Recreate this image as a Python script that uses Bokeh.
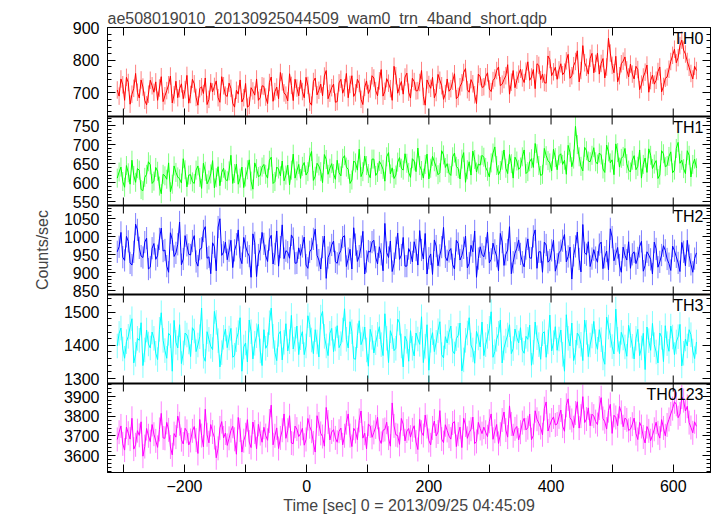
import math
from bokeh.plotting import figure
from bokeh.models import (Range1d, FixedTicker, LinearAxis, Label, ColumnDataSource,
                          Span, CustomJSTickFormatter)
from bokeh.embed import file_html
from bokeh.resources import INLINE

TITLE = "ae508019010_20130925044509_wam0_trn_4band_short.qdp"
XLABEL = "Time [sec] 0 = 2013/09/25 04:45:09"
YLABEL = "Counts/sec"

# time bins (sec): samples "a" at -310, -304, ... and samples "b" 3 s later
T0 = -310
DT = 6
N_A = 159
N_B = 158

th0_a = [708, 742, 676, 731, 695, 759, 683, 717, 662, 738,
         701, 676, 749, 690, 724, 668, 735, 712, 681, 753,
         694, 727, 661, 718, 745, 679, 702, 736, 670, 721,
         688, 713, 655, 695, 671, 728, 660, 705, 742, 684,
         719, 666, 748, 703, 681, 733, 692, 758, 675, 714,
         739, 684, 722, 661, 745, 707, 690, 768, 698, 726,
         672, 741, 715, 684, 752, 699, 728, 663, 736, 711,
         745, 690, 771, 704, 729, 676, 752, 718, 695, 760,
         683, 734, 706, 768, 661, 725, 747, 700, 738, 679,
         742, 712, 758, 688, 730, 774, 701, 727, 666, 749,
         718, 761, 703, 745, 779, 726, 752, 695, 768, 738,
         772, 731, 795, 748, 712, 784, 757, 729, 802, 764,
         741, 789, 763, 818, 752, 796, 733, 845, 778, 806,
         761, 822, 790, 745, 868, 784, 812, 752, 797, 770,
         788, 742, 771, 726, 763, 701, 754, 738, 779, 719,
         748, 796, 834, 808, 862, 819, 778, 742, 768]
th0_b = [689, 724, 747, 664, 713, 701, 739, 676, 695, 721,
         733, 714, 672, 706, 751, 693, 684, 727, 709, 667,
         741, 685, 712, 697, 663, 730, 719, 684, 749, 692,
         729, 667, 707, 739, 684, 655, 715, 692, 676, 721,
         686, 731, 673, 717, 762, 699, 674, 722, 741, 690,
         703, 747, 670, 734, 693, 726, 751, 681, 715, 670,
         730, 698, 759, 725, 688, 741, 679, 716, 697, 752,
         706, 736, 689, 743, 712, 781, 698, 734, 748, 701,
         744, 705, 731, 688, 739, 713, 684, 756, 721, 697,
         704, 735, 681, 718, 762, 709, 740, 693, 757, 716,
         749, 711, 737, 768, 721, 740, 786, 732, 715, 757,
         745, 766, 738, 771, 789, 740, 731, 813, 752, 778,
         770, 755, 798, 744, 783, 829, 768, 792, 757, 821,
         790, 757, 805, 779, 822, 761, 733, 789, 810, 748,
         757, 781, 709, 748, 785, 737, 726, 765, 702, 744,
         772, 815, 792, 845, 831, 796, 759, 781]

th1_a = [612, 641, 588, 626, 659, 601, 633, 579, 622, 647,
         604, 630, 571, 618, 652, 596, 627, 610, 663, 589,
         621, 598, 644, 585, 630, 607, 658, 613, 592, 638,
         605, 672, 624, 596, 641, 615, 660, 583, 637, 619,
         648, 612, 667, 603, 636, 657, 620, 594, 675, 631,
         611, 653, 629, 682, 617, 644, 600, 661, 638, 624,
         659, 618, 671, 635, 607, 652, 688, 629, 645, 613,
         662, 627, 648, 604, 679, 639, 620, 666, 633, 651,
         614, 657, 691, 632, 648, 610, 669, 641, 626, 673,
         650, 619, 678, 637, 662, 601, 655, 683, 628, 646,
         667, 630, 652, 694, 621, 659, 638, 674, 612, 657,
         641, 686, 629, 663, 703, 645, 622, 671, 652, 688,
         634, 676, 659, 698, 642, 748, 668, 631, 684, 655,
         692, 649, 673, 627, 681, 660, 702, 641, 669, 650,
         628, 671, 643, 612, 665, 689, 637, 658, 620, 676,
         645, 681, 633, 706, 659, 624, 672, 648, 639]
th1_b = [628, 603, 645, 596, 619, 637, 582, 614, 655, 598,
         640, 591, 622, 609, 576, 644, 615, 599, 634, 620,
         602, 633, 614, 651, 597, 623, 586, 642, 627, 609,
         631, 598, 649, 612, 587, 634, 604, 652, 616, 641,
         622, 659, 598, 641, 618, 605, 646, 633, 612, 648,
         643, 620, 667, 606, 651, 629, 674, 622, 650, 609,
         626, 664, 641, 598, 657, 633, 616, 670, 624, 662,
         619, 656, 635, 668, 623, 611, 654, 638, 676, 627,
         663, 629, 645, 612, 675, 638, 655, 621, 684, 640,
         625, 668, 643, 610, 679, 634, 620, 661, 649, 672,
         640, 615, 678, 645, 632, 686, 624, 650, 667, 635,
         668, 624, 655, 640, 676, 619, 690, 658, 631, 666,
         671, 648, 622, 680, 662, 700, 643, 693, 657, 672,
         655, 678, 636, 699, 652, 621, 679, 664, 690, 633,
         659, 634, 686, 648, 627, 672, 649, 611, 684, 642,
         669, 626, 690, 651, 637, 684, 615, 662]

th2_a = [958, 1012, 934, 987, 921, 1035, 969, 942, 996, 915,
         981, 947, 1024, 963, 901, 992, 955, 1041, 938, 976,
         949, 1003, 918, 968, 1028, 944, 983, 905, 1050, 957,
         936, 990, 962, 1019, 925, 974, 946, 1008, 889, 965,
         980, 931, 1004, 952, 918, 1033, 961, 940, 995, 927,
         948, 999, 912, 966, 1021, 935, 971, 884, 955, 988,
         926, 962, 1003, 939, 910, 978, 946, 1015, 931, 957,
         990, 924, 951, 1037, 942, 903, 969, 937, 998, 918,
         955, 986, 921, 963, 1009, 940, 895, 974, 948, 1026,
         933, 967, 910, 981, 947, 1002, 926, 958, 887, 972,
         944, 1013, 937, 962, 905, 985, 951, 1028, 929, 968,
         952, 916, 994, 940, 1019, 958, 901, 977, 935, 990,
         923, 961, 1006, 945, 882, 973, 938, 1034, 950, 917,
         964, 929, 985, 943, 908, 999, 952, 921, 971, 935,
         912, 958, 941, 987, 920, 949, 896, 966, 930, 975,
         938, 906, 961, 927, 984, 919, 947, 901, 955]
th2_b = [972, 943, 1001, 927, 958, 1019, 946, 985, 910, 968,
         937, 994, 960, 918, 1011, 945, 979, 922, 1003, 951,
         988, 931, 965, 1016, 940, 897, 972, 1027, 948, 985,
         961, 914, 979, 942, 998, 956, 887, 983, 949, 1012,
         947, 992, 924, 1016, 971, 939, 957, 1005, 926, 969,
         973, 921, 958, 994, 948, 910, 1002, 942, 977, 930,
         951, 999, 917, 965, 1025, 931, 972, 896, 960, 985,
         943, 972, 905, 956, 988, 925, 1010, 949, 918, 967,
         930, 963, 1017, 938, 896, 952, 991, 919, 971, 944,
         959, 922, 990, 935, 969, 913, 976, 1016, 939, 951,
         968, 927, 982, 946, 1009, 920, 963, 897, 954, 991,
         929, 967, 941, 1001, 912, 958, 985, 929, 962, 904,
         956, 989, 930, 971, 948, 1013, 902, 955, 986, 939,
         942, 978, 911, 960, 1022, 933, 970, 901, 948, 986,
         951, 925, 973, 904, 958, 937, 985, 915, 949, 962,
         925, 974, 944, 903, 958, 990, 923, 939]

th3_a = [1398, 1452, 1361, 1427, 1480, 1373, 1415, 1339, 1446, 1392,
         1421, 1357, 1498, 1384, 1436, 1322, 1409, 1462, 1377, 1431,
         1366, 1443, 1401, 1512, 1352, 1418, 1387, 1469, 1335, 1424,
         1393, 1451, 1370, 1438, 1322, 1407, 1476, 1359, 1429, 1383,
         1447, 1402, 1512, 1378, 1433, 1356, 1465, 1411, 1389, 1458,
         1423, 1372, 1489, 1416, 1447, 1365, 1502, 1398, 1436, 1381,
         1459, 1405, 1510, 1392, 1441, 1358, 1474, 1419, 1386, 1448,
         1377, 1433, 1402, 1495, 1348, 1426, 1391, 1467, 1335, 1412,
         1444, 1368, 1419, 1486, 1397, 1325, 1438, 1409, 1471, 1362,
         1407, 1458, 1374, 1430, 1323, 1415, 1483, 1386, 1442, 1395,
         1369, 1427, 1501, 1381, 1436, 1347, 1413, 1462, 1390, 1424,
         1453, 1376, 1418, 1340, 1470, 1402, 1435, 1364, 1491, 1408,
         1385, 1446, 1322, 1421, 1467, 1379, 1428, 1354, 1439, 1401,
         1472, 1388, 1417, 1343, 1455, 1396, 1509, 1375, 1422, 1367,
         1430, 1359, 1448, 1392, 1327, 1414, 1466, 1380, 1437, 1351,
         1405, 1458, 1372, 1426, 1338, 1419, 1447, 1383, 1410]
th3_b = [1436, 1389, 1411, 1455, 1347, 1421, 1468, 1386, 1404, 1440,
         1376, 1448, 1415, 1361, 1429, 1475, 1392, 1345, 1437, 1410,
         1453, 1381, 1426, 1367, 1441, 1397, 1502, 1414, 1378, 1449,
         1422, 1364, 1417, 1483, 1395, 1350, 1441, 1406, 1463, 1339,
         1391, 1468, 1427, 1354, 1442, 1409, 1383, 1490, 1418, 1372,
         1441, 1398, 1462, 1375, 1410, 1485, 1427, 1369, 1451, 1419,
         1393, 1446, 1418, 1471, 1360, 1429, 1402, 1455, 1337, 1424,
         1408, 1456, 1369, 1421, 1444, 1384, 1479, 1398, 1427, 1352,
         1391, 1437, 1403, 1348, 1462, 1415, 1381, 1444, 1372, 1426,
         1439, 1383, 1420, 1467, 1356, 1437, 1401, 1346, 1422, 1470,
         1402, 1451, 1364, 1418, 1476, 1392, 1431, 1375, 1449, 1407,
         1386, 1427, 1461, 1379, 1423, 1358, 1441, 1410, 1383, 1456,
         1419, 1373, 1492, 1398, 1354, 1437, 1403, 1476, 1366, 1428,
         1411, 1447, 1362, 1485, 1430, 1374, 1418, 1439, 1395, 1460,
         1397, 1421, 1369, 1436, 1455, 1385, 1402, 1347, 1424, 1459,
         1382, 1425, 1410, 1463, 1376, 1398, 1432, 1360]

th0123_a = [3682, 3751, 3628, 3714, 3790, 3655, 3703, 3597, 3738, 3671,
            3709, 3642, 3815, 3688, 3731, 3604, 3694, 3762, 3659, 3723,
            3677, 3748, 3611, 3702, 3836, 3665, 3720, 3589, 3741, 3690,
            3652, 3727, 3683, 3794, 3618, 3706, 3669, 3771, 3635, 3712,
            3744, 3678, 3857, 3701, 3636, 3729, 3688, 3803, 3661, 3735,
            3712, 3653, 3789, 3724, 3618, 3761, 3697, 3845, 3680, 3732,
            3668, 3740, 3701, 3812, 3646, 3723, 3779, 3689, 3634, 3751,
            3718, 3795, 3662, 3733, 3689, 3868, 3706, 3657, 3760, 3725,
            3694, 3752, 3631, 3719, 3806, 3677, 3741, 3700, 3829, 3666,
            3728, 3684, 3773, 3709, 3641, 3756, 3717, 3796, 3672, 3738,
            3745, 3696, 3812, 3724, 3662, 3781, 3730, 3853, 3701, 3748,
            3719, 3790, 3742, 3681, 3828, 3765, 3706, 3873, 3754, 3797,
            3761, 3832, 3724, 3889, 3779, 3817, 3740, 3900, 3786, 3752,
            3801, 3758, 3895, 3772, 3829, 3713, 3794, 3850, 3747, 3782,
            3735, 3791, 3682, 3748, 3664, 3726, 3703, 3770, 3689, 3741,
            3756, 3812, 3874, 3793, 3898, 3827, 3768, 3716, 3749]
th0123_b = [3719, 3660, 3745, 3684, 3633, 3727, 3772, 3646, 3701, 3758,
            3675, 3733, 3690, 3769, 3644, 3712, 3801, 3681, 3739, 3654,
            3726, 3679, 3784, 3645, 3706, 3758, 3692, 3637, 3773, 3715,
            3688, 3749, 3607, 3730, 3676, 3783, 3641, 3720, 3759, 3668,
            3702, 3776, 3655, 3741, 3690, 3812, 3729, 3664, 3750, 3697,
            3739, 3682, 3747, 3665, 3803, 3713, 3648, 3771, 3720, 3690,
            3724, 3655, 3768, 3702, 3739, 3681, 3827, 3714, 3760, 3693,
            3746, 3683, 3729, 3770, 3648, 3751, 3702, 3789, 3675, 3738,
            3731, 3669, 3784, 3702, 3748, 3655, 3776, 3720, 3684, 3757,
            3699, 3766, 3646, 3745, 3790, 3688, 3734, 3661, 3769, 3712,
            3719, 3775, 3683, 3758, 3709, 3822, 3694, 3761, 3736, 3680,
            3768, 3731, 3811, 3702, 3785, 3743, 3839, 3725, 3781, 3756,
            3797, 3750, 3856, 3793, 3742, 3874, 3801, 3768, 3843, 3811,
            3773, 3842, 3789, 3735, 3861, 3805, 3752, 3820, 3791, 3728,
            3760, 3712, 3769, 3695, 3748, 3676, 3734, 3716, 3783, 3701,
            3784, 3839, 3861, 3812, 3880, 3851, 3743, 3772]

# typical 1-sigma error bar of each band (counts/sec)
errors = {"TH0": 27, "TH1": 25, "TH2": 31, "TH3": 37, "TH0123": 61}

names = ["TH0", "TH1", "TH2", "TH3", "TH0123"]
series_a = [th0_a, th1_a, th2_a, th3_a, th0123_a]
series_b = [th0_b, th1_b, th2_b, th3_b, th0123_b]
colors = ["#ff0000", "#00ff00", "#0000ff", "#00ffff", "#ff00ff"]
y_limits = [(626, 901), (540, 774), (839, 1087), (1285, 1553), (3514, 3967)]
y_major = [[700, 800, 900], [550, 600, 650, 700, 750], [850, 900, 950, 1000, 1050],
           [1300, 1400, 1500], [3600, 3700, 3800, 3900]]
y_minor_step = [20, 10, 10, 20, 20]
x_major = [-200, 0, 200, 400, 600]
x_minor = [-300, -100, 100, 300, 500]

FONT = "Liberation Sans"
FS = "16px"
NP = len(names)

time_a = [T0 + DT * i for i in range(N_A)]
time_b = [T0 + DT // 2 + DT * i for i in range(N_B)]

p = figure(width=717, height=516,
           x_range=Range1d(-326, 661), y_range=Range1d(0, NP),
           output_backend="svg", toolbar_location=None,
           x_axis_location=None, y_axis_location=None,
           min_border_left=107, min_border_right=7, min_border_top=27, min_border_bottom=0)
p.grid.visible = False
p.outline_line_color = "black"
p.outline_line_width = 1

# panel k (from top) occupies master band [NP-1-k, NP-k]
major_pos, minor_pos = [], []
for k, name in enumerate(names):
    lo, hi = y_limits[k]
    base = NP - 1 - k
    span = hi - lo
    p.extra_y_ranges[name] = Range1d(lo - span * base, hi + span * k)
    for v in y_major[k]:
        major_pos.append(base + (v - lo) / span)
    step = y_minor_step[k]
    v = lo - lo % step + step
    while v < hi:
        if v not in y_major[k]:
            minor_pos.append(base + (v - lo) / span)
        v += step
los = [y_limits[NP - 1 - b][0] for b in range(NP)]
his = [y_limits[NP - 1 - b][1] for b in range(NP)]

yt = FixedTicker(ticks=major_pos, minor_ticks=minor_pos)
xt = FixedTicker(ticks=x_major, minor_ticks=x_minor)
yfmt = CustomJSTickFormatter(args=dict(los=los, his=his), code="""
    const b = Math.floor(tick);
    return String(Math.round(los[b] + (tick - b) * (his[b] - los[b])));
""")


def style_axis(ax, labels, minor_len):
    ax.axis_line_color = "black"
    ax.major_tick_in = 8
    ax.major_tick_out = 0
    ax.minor_tick_in = minor_len
    ax.minor_tick_out = 0
    ax.major_tick_line_color = "black"
    ax.minor_tick_line_color = "black"
    ax.major_label_text_font = FONT
    ax.major_label_text_color = "black"
    if labels:
        ax.major_label_text_font_size = FS
    else:
        ax.major_label_text_font_size = "0px"
        ax.major_label_standoff = 0


left = LinearAxis(ticker=yt, formatter=yfmt)
style_axis(left, True, 4)
left.major_label_standoff = 8
left.axis_label = YLABEL
left.axis_label_text_font = FONT
left.axis_label_text_font_size = FS
left.axis_label_text_font_style = "normal"
left.axis_label_standoff = 10
p.add_layout(left, "left")

right = LinearAxis(ticker=yt)
style_axis(right, False, 4)
p.add_layout(right, "right")

above = LinearAxis(ticker=xt)
style_axis(above, False, 8)
p.add_layout(above, "above")

below = LinearAxis(ticker=xt)
style_axis(below, True, 8)
below.major_label_standoff = 7
below.axis_label = XLABEL
below.axis_label_text_font = FONT
below.axis_label_text_font_size = FS
below.axis_label_text_font_style = "normal"
below.axis_label_standoff = 2
p.add_layout(below, "below")

# panel separators with inward time ticks on both sides
for j in range(1, NP):
    p.add_layout(Span(location=j, dimension="width", line_color="black", line_width=2))
    p.scatter(x=x_major + x_minor, y=[j] * (len(x_major) + len(x_minor)),
              marker="dash", size=16, angle=math.pi / 2, line_color="black", line_width=1)

for k, name in enumerate(names):
    va, vb = series_a[k], series_b[k]
    t = []
    vals = []
    for i in range(N_A):
        t.append(time_a[i])
        vals.append(va[i])
        if i < N_B:
            t.append(time_b[i])
            vals.append(vb[i])
    err = errors[name]
    src = ColumnDataSource(dict(t=t, v=vals, lo=[v - err for v in vals],
                                hi=[v + err for v in vals]))
    col = colors[k]
    p.segment(x0="t", y0="lo", x1="t", y1="hi", source=src, line_color=col,
              line_alpha=0.5, line_width=1, y_range_name=name)
    p.line(x="t", y="v", source=src, line_color=col, line_width=1, y_range_name=name)
    p.add_layout(Label(x=596, y=NP - k, x_units="screen", y_units="data", y_offset=-2,
                       text=name, text_align="right", text_baseline="top",
                       text_font=FONT, text_font_size=FS, text_color="black"))

p.title.text = TITLE
p.title.align = "left"
p.title.text_font = FONT
p.title.text_font_size = FS
p.title.text_font_style = "normal"
p.title.standoff = 2
p.title.offset = 0

open("out.html", "w").write(file_html(p, INLINE))
